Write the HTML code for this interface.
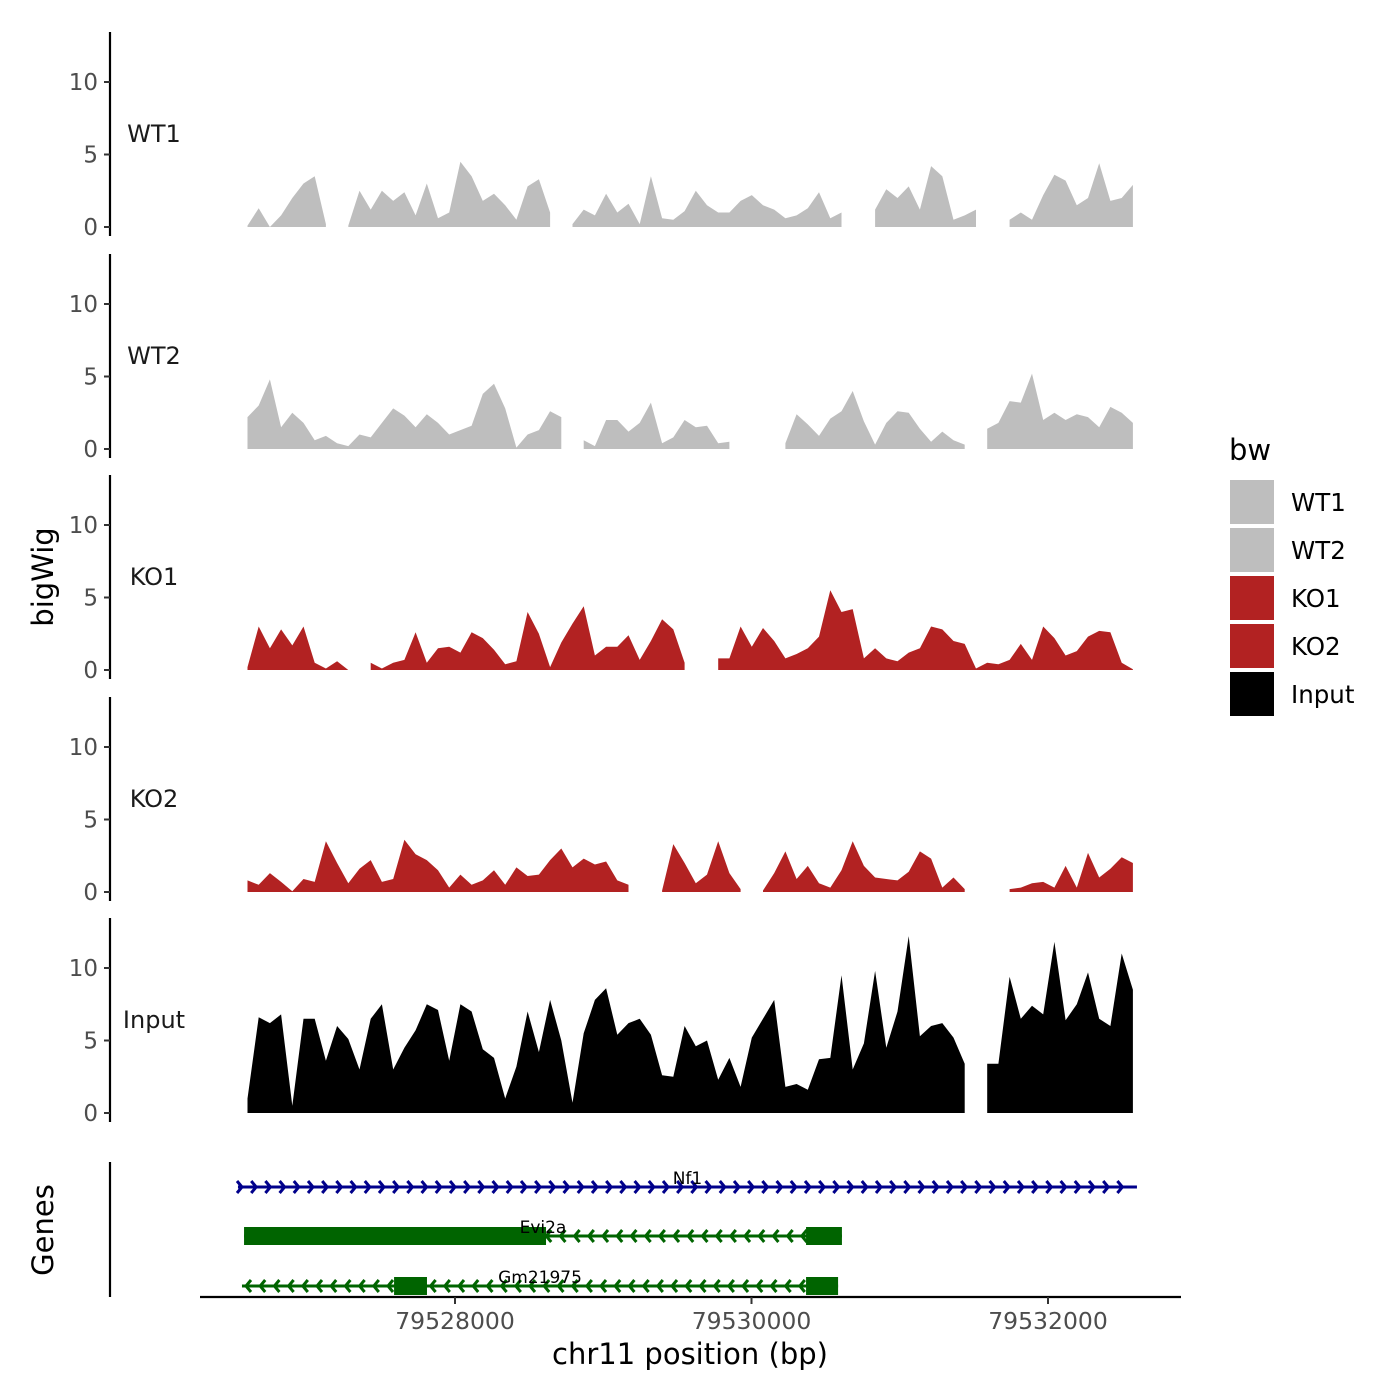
<!DOCTYPE html>
<html><head><meta charset="utf-8"><style>
html,body{margin:0;padding:0;background:#fff}
svg{display:block;font-family:"DejaVu Sans","Liberation Sans",sans-serif}
</style></head><body>
<svg id="chart" width="1400" height="1400" viewBox="0 0 1400 1400" xmlns="http://www.w3.org/2000/svg">
<g id="tracks"></g>
<g id="genes"></g>
<g id="axes"></g>
<text x="53" y="577" transform="rotate(-90 53 577)" text-anchor="middle" font-size="29" fill="#000">bigWig</text>
<text x="53" y="1230" transform="rotate(-90 53 1230)" text-anchor="middle" font-size="29" fill="#000">Genes</text>
<text x="690" y="1364" text-anchor="middle" font-size="29" fill="#000">chr11 position (bp)</text>
<g>
<text x="1229" y="460" font-size="29" fill="#000">bw</text>
<rect x="1230" y="480" width="44" height="44" fill="#BEBEBE"/>
<text x="1291" y="511" font-size="24.5">WT1</text>
<rect x="1230" y="528" width="44" height="44" fill="#BEBEBE"/>
<text x="1291" y="559" font-size="24.5">WT2</text>
<rect x="1230" y="576" width="44" height="44" fill="#B22222"/>
<text x="1291" y="607" font-size="24.5">KO1</text>
<rect x="1230" y="624" width="44" height="44" fill="#B22222"/>
<text x="1291" y="655" font-size="24.5">KO2</text>
<rect x="1230" y="672" width="44" height="44" fill="#000"/>
<text x="1291" y="703" font-size="24.5">Input</text>
</g>
</svg>
<script>
const startBp = 79526600;
const stepBp = 75.6;
const trackNames = ["WT1","WT2","KO1","KO2","Input"];
const trackColors = ["#BEBEBE","#BEBEBE","#B22222","#B22222","#000000"];
const yTicks = [0,5,10];
const xTicks = [79528000,79530000,79532000];
const N = null;
const wt1 = [0.1,1.3,0,0.8,2,3,3.5,0.2,N,0.1,2.5,1.2,2.5,1.8,2.4,0.8,3,0.6,1,4.5,3.5,1.8,2.3,1.5,0.5,2.8,3.3,1,N,0.2,1.2,0.8,2.3,1,1.6,0.2,3.5,0.6,0.5,1.1,2.5,1.5,1.0,1.0,1.8,2.2,1.5,1.2,0.6,0.8,1.3,2.4,0.6,1.0,N,N,1.2,2.6,2.0,2.8,1.2,4.2,3.5,0.5,0.8,1.2,N,N,0.5,1.0,0.5,2.2,3.6,3.2,1.5,2.0,4.4,1.8,2.0,2.9];
const wt2 = [2.2,3.0,4.8,1.5,2.5,1.8,0.6,0.9,0.4,0.2,1.0,0.8,1.8,2.8,2.3,1.5,2.4,1.8,1.0,1.3,1.6,3.8,4.5,2.8,0.1,1.0,1.3,2.6,2.2,N,0.6,0.2,2.0,2.0,1.2,1.8,3.2,0.4,0.8,2.0,1.5,1.6,0.4,0.5,N,N,N,N,0.4,2.4,1.7,0.9,2.1,2.6,4.0,1.9,0.3,1.8,2.6,2.5,1.4,0.5,1.2,0.6,0.3,N,1.4,1.8,3.3,3.2,5.2,2.0,2.5,2.0,2.4,2.2,1.5,2.9,2.5,1.8];
const ko1 = [0.2,3.0,1.5,2.8,1.7,3.0,0.5,0.1,0.6,0,N,0.5,0.1,0.5,0.7,2.6,0.5,1.5,1.6,1.2,2.6,2.2,1.4,0.4,0.6,4.0,2.5,0.2,1.9,3.2,4.4,1.0,1.6,1.6,2.4,0.7,2.0,3.5,2.8,0.5,N,N,0.8,0.8,3.0,1.6,2.9,2.0,0.8,1.1,1.5,2.3,5.5,4.0,4.2,0.8,1.5,0.8,0.6,1.2,1.5,3.0,2.8,2.0,1.8,0.1,0.5,0.4,0.7,1.8,0.7,3.0,2.2,1.0,1.3,2.3,2.7,2.6,0.5,0.05];
const ko2 = [0.8,0.5,1.3,0.7,0.05,0.9,0.7,3.5,2.0,0.6,1.6,2.2,0.7,0.9,3.6,2.6,2.2,1.5,0.3,1.2,0.5,0.8,1.5,0.5,1.7,1.1,1.2,2.2,3.0,1.7,2.3,1.9,2.1,0.8,0.5,N,N,0.1,3.3,2.0,0.6,1.2,3.5,1.3,0.2,N,0.1,1.3,2.8,0.9,1.8,0.6,0.3,1.5,3.5,1.8,1.0,0.9,0.8,1.4,2.8,2.3,0.3,1.0,0.2,N,N,N,0.2,0.3,0.6,0.7,0.3,1.8,0.3,2.7,1.0,1.6,2.4,2.0];
const input = [1.0,6.6,6.2,6.8,0.5,6.5,6.5,3.6,6.0,5.1,3.0,6.5,7.5,3.0,4.5,5.7,7.5,7.1,3.6,7.5,7.0,4.4,3.8,1.0,3.2,7.0,4.2,7.8,5.0,0.7,5.5,7.8,8.6,5.4,6.2,6.5,5.4,2.6,2.5,6.0,4.6,5.0,2.3,3.8,1.8,5.2,6.5,7.8,1.8,2.0,1.6,3.7,3.8,9.5,3.0,4.8,9.8,4.5,7.0,12.2,5.3,6.0,6.2,5.2,3.4,N,3.4,3.4,9.4,6.5,7.4,6.8,11.8,6.4,7.5,9.7,6.5,6.0,11.0,8.5];
const trackValues = [wt1,wt2,ko1,ko2,input];
const geneNames = ["Nf1","Evi2a","Gm21975"];
const geneStarts = [79526536,79526577,79526563];
const geneEnds = [79532600,79530610,79530584];
const geneStrands = ["+","-","-"];
const geneColors = ["#00008B","#006400","#006400"];
const exonGene = [1,1,2,2];
const exonStarts = [79526577,79530368,79527589,79530368];
const exonEnds = [79528614,79530610,79527811,79530584];

const NS = "http://www.w3.org/2000/svg";
function xScale(bp){ return 455 + (bp - 79528000) * 0.148250; }
const panelBase = [227, 449, 670, 892, 1113];
const unitPx = 14.5;
function yScale(p, v){ return panelBase[p] - v * unitPx; }
function mk(tag, attrs, parent){ const e = document.createElementNS(NS, tag); for (const k in attrs) e.setAttribute(k, attrs[k]); parent.appendChild(e); return e; }

const tracks = document.getElementById("tracks");
const axes = document.getElementById("axes");
trackValues.forEach((vals, p) => {
  const g = mk("g", {}, tracks);
  
  
  let run = [];
  const flush = () => {
    if (run.length) {
      let d = "M" + run[0][0].toFixed(1) + "," + panelBase[p];
      run.forEach(pt => { d += " L" + pt[0].toFixed(1) + "," + pt[1].toFixed(1); });
      d += " L" + run[run.length-1][0].toFixed(1) + "," + panelBase[p] + " Z";
      const a = mk("path", {d: d, fill: trackColors[p]}, g);
      
      
    }
    run = [];
  };
  vals.forEach((v, i) => {
    if (v === null) { flush(); return; }
    run.push([xScale(startBp + i * stepBp), yScale(p, v)]);
  });
  flush();
  const ax = mk("line", {x1:110, x2:110, y1:panelBase[p]-195, y2:panelBase[p]+9, stroke:"#000", "stroke-width":2.2}, axes);
  
  
  yTicks.forEach(t => {
    const y = yScale(p, t);
    const tk = mk("line", {x1:104, x2:110, y1:y, y2:y, stroke:"#333", "stroke-width":2}, axes);
    
    
    const tl = mk("text", {x:98, y:y+8, "text-anchor":"end", "font-size":23, fill:"#4D4D4D"}, axes);
    tl.textContent = t;
    
    
  });
  const lab = mk("text", {x:154, y:yScale(p, 6.5)+9, "text-anchor":"middle", "font-size":24, fill:"#1a1a1a"}, axes);
  lab.textContent = trackNames[p];
  
  
});

const gax = mk("line", {x1:110, x2:110, y1:1162, y2:1297, stroke:"#000", "stroke-width":2.2}, axes);


const xax = mk("line", {x1:200, x2:1181, y1:1297, y2:1297, stroke:"#000", "stroke-width":2.2}, axes);


xTicks.forEach(t => {
  const x = xScale(t);
  const tk = mk("line", {x1:x, x2:x, y1:1297, y2:1304, stroke:"#333", "stroke-width":2}, axes);
  
  
  const tl = mk("text", {x:x, y:1329, "text-anchor":"middle", "font-size":23.5, fill:"#4D4D4D"}, axes);
  tl.textContent = t;
  
  
});

const genes = document.getElementById("genes");
const geneY = [1187, 1236, 1286];
geneNames.forEach((n, gi) => {
  const g = mk("g", {}, genes);
  
  
  const x1 = xScale(geneStarts[gi]), x2 = xScale(geneEnds[gi]), y = geneY[gi], c = geneColors[gi];
  const ln = mk("line", {x1:x1, x2:x2, y1:y, y2:y, stroke:c, "stroke-width":3}, g);
  
  
  let d = "";
  for (let x = x1 + 4; x <= x2 - 2; x += 14.2) {
    if (geneStrands[gi] === "+") d += "M" + (x-5).toFixed(1) + "," + (y-6) + " L" + x.toFixed(1) + "," + y + " L" + (x-5).toFixed(1) + "," + (y+6) + " ";
    else d += "M" + (x+5).toFixed(1) + "," + (y-6) + " L" + x.toFixed(1) + "," + y + " L" + (x+5).toFixed(1) + "," + (y+6) + " ";
  }
  const ch = mk("path", {d:d, stroke:c, "stroke-width":3, fill:"none"}, g);
  
  
  exonGene.forEach((eg, ei) => {
    if (eg !== gi) return;
    const ex = xScale(exonStarts[ei]), ew = xScale(exonEnds[ei]) - ex;
    const r = mk("rect", {x:ex, y:y-9, width:ew, height:18, fill:c}, g);
    
    
  });
  const lbl = mk("text", {x:(x1 + x2) / 2, y:y-3, "text-anchor":"middle", "font-size":17, fill:"#000"}, g);
  lbl.textContent = n;
  
  
});
</script>
</body></html>
